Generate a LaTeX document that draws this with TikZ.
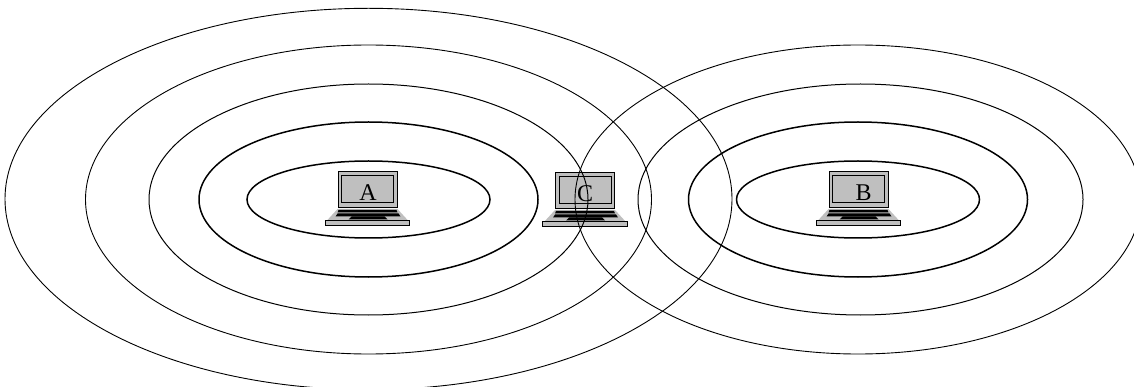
\documentclass[tikz,border=0pt]{standalone}
\usepackage{fontspec}
\setmainfont{Liberation Serif}
\tikzset{
  ringthin/.style={draw=black,line width=0.9pt},
  ringmid/.style={draw=black,line width=1.0pt},
  ringthick/.style={draw=black,line width=1.5pt},
  laptopbody/.style={fill=black!25,draw=black,line width=1.0pt},
  laptopkeys/.style={fill=black,draw=none},
  laptoplabel/.style={font=\fontsize{24}{24}\selectfont,inner sep=0pt,text=black}
}
\newcommand{\laptop}[4]{%
  \begin{scope}[shift={(#1,#2)}]
    \path[laptopbody] (-29.5,-27) rectangle (29.5,9);
    \path[laptopbody] (-26,-23) rectangle (26,4);
    \path[fill=black!25,draw=none] (-30,10) -- (30,10) -- (41,22) -- (-41,22) -- cycle;
    \path[laptopkeys] (-29,11) -- (29,11) -- (30,13.5) -- (-30,13.5) -- cycle;
    \path[laptopkeys] (-30,14.5) -- (31,14.5) -- (33,17.5) -- (-32,17.5) -- cycle;
    \path[laptopkeys] (-16,17.5) -- (17,17.5) -- (20,20.5) -- (-19,20.5) -- cycle;
    \path[laptopbody] (-42.5,22) rectangle (42,26.5);
    \node[laptoplabel] (#3) at (#4,-6.5) {#3};
  \end{scope}}
\begin{document}
\begin{tikzpicture}[x=1pt,y=-1pt]
\useasboundingbox (0,0) rectangle (1134,387);
\laptop{367.5}{199}{A}{0.5}
\laptop{585}{200}{C}{0}
\laptop{858.5}{199}{B}{5}
\begin{scope}
\clip (0,0) rectangle (1134,387);
\draw[ringthick] (368.5,199.5) ellipse [x radius=121.5,y radius=38.5];
\draw[ringthick] (368.5,199.5) ellipse [x radius=169.5,y radius=77.5];
\draw[ringmid] (368.5,199.5) ellipse [x radius=219.5,y radius=115.5];
\draw[ringthin] (368.5,199.5) ellipse [x radius=283,y radius=154.5];
\draw[ringthin] (368.5,199) ellipse [x radius=363.5,y radius=190.7];
\draw[ringthick] (858,199.5) ellipse [x radius=121.5,y radius=38.5];
\draw[ringthick] (858,199.5) ellipse [x radius=169.5,y radius=77.5];
\draw[ringmid] (860.5,199.5) ellipse [x radius=222.5,y radius=115.5];
\draw[ringthin] (858,199.5) ellipse [x radius=283,y radius=154.5];
\end{scope}
\end{tikzpicture}
\end{document}
